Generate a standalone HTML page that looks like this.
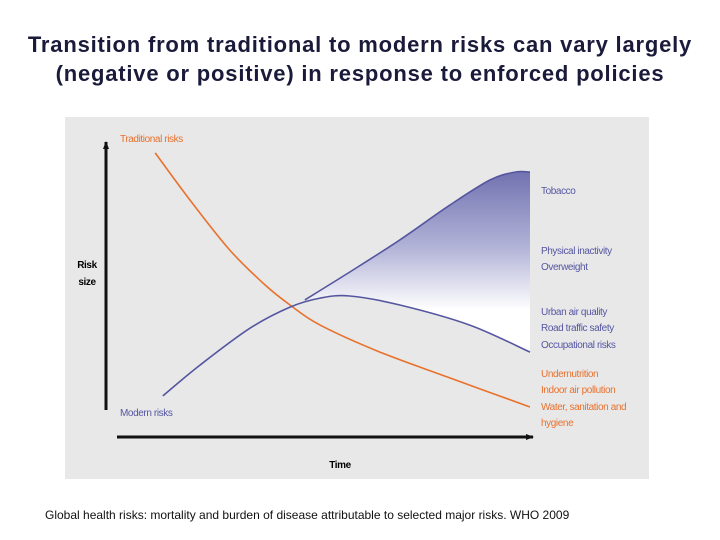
<!DOCTYPE html>
<html><head><meta charset="utf-8"><style>
body{margin:0;width:720px;height:540px;background:#fff;font-family:"Liberation Sans",sans-serif;overflow:hidden;position:relative}
#title{position:absolute;top:30px;left:0;width:720px;text-align:center;font-size:22px;font-weight:bold;letter-spacing:0.8px;line-height:29px;color:#1a1a3a;white-space:nowrap}
#cap{position:absolute;left:45px;top:508px;font-size:12px;color:#111}
svg{position:absolute;left:0;top:0}
</style></head><body>
<div id="title">Transition from traditional to modern risks can vary largely<br>(negative or positive) in response to enforced policies</div>
<svg width="720" height="540" id="chart">
<defs><linearGradient id="g" x1="0" y1="175" x2="0" y2="310" gradientUnits="userSpaceOnUse"><stop offset="0" stop-color="#7475b2"/><stop offset="0.55" stop-color="#b4b5d8"/><stop offset="1" stop-color="#ffffff"/></linearGradient>
<marker id="ah" markerWidth="10" markerHeight="10" refX="7" refY="4" orient="auto" markerUnits="userSpaceOnUse"><path d="M0,1 L8,4 L0,7 z" fill="#111"/></marker></defs>
<rect x="65" y="117" width="584" height="362" fill="#e8e8e9"/>
<g id="marks"></g>
<line x1="106" y1="410" x2="106" y2="142" stroke="#111" stroke-width="3" marker-end="url(#ah)"/>
<line x1="117" y1="437" x2="533" y2="437" stroke="#111" stroke-width="3" marker-end="url(#ah)"/>
<g font-family="Liberation Sans,sans-serif" font-size="10" letter-spacing="-0.4">
<text x="87" y="268" text-anchor="middle" font-weight="bold"><tspan x="87">Risk</tspan><tspan x="87" dy="17">size</tspan></text>
<text x="340" y="468" text-anchor="middle" font-weight="bold">Time</text>
<text x="120" y="142" fill="#e8712c">Traditional risks</text>
<text x="120" y="416" fill="#5556a0">Modern risks</text>
<g fill="#5556a0">
<text x="541" y="194">Tobacco</text>
<text x="541" y="254">Physical inactivity</text>
<text x="541" y="270">Overweight</text>
<text x="541" y="315">Urban air quality</text>
<text x="541" y="331">Road traffic safety</text>
<text x="541" y="348">Occupational risks</text></g>
<g fill="#e8712c">
<text x="541" y="377">Undernutrition</text>
<text x="541" y="393">Indoor air pollution</text>
<text x="541" y="410">Water, sanitation and</text>
<text x="541" y="426">hygiene</text></g>
</g>
</svg>
<div id="cap">Global health risks: mortality and burden of disease attributable to selected major risks. WHO 2009</div>
<script>
const tradT=[11.6,19.8,29.2,37.5,43.4,50.5,64.6,81.1,100];
const tradV=[94.7,79,62.3,50.7,44,37.3,28.3,19.7,10];
const modT=[13.4,22.2,34,43.4,50.5,57.5,69.3,85.8,100];
const modV=[13.7,24,36.3,43.3,46.3,47,44,37.3,28.3];
const upT=[46.9,57.5,69.3,81.1,90.6,96.5,100];
const upV=[45.7,55,65.7,77.3,85.7,88.3,88.3];
const xs=t=>106+t*4.24, ys=v=>437-v*3;
function pts(T,V){return T.map((t,i)=>[xs(t),ys(V[i])]);}
function cr(p,move){let d=move?`M${p[0][0]},${p[0][1]}`:`L${p[0][0]},${p[0][1]}`;
for(let i=0;i<p.length-1;i++){const a=p[Math.max(i-1,0)],b=p[i],c=p[i+1],e=p[Math.min(i+2,p.length-1)];
d+=` C${b[0]+(c[0]-a[0])/6},${b[1]+(c[1]-a[1])/6} ${c[0]-(e[0]-b[0])/6},${c[1]-(e[1]-b[1])/6} ${c[0]},${c[1]}`;}return d;}
const g=document.getElementById('marks');const NS='http://www.w3.org/2000/svg';
function add(d,attrs,name){const p=document.createElementNS(NS,'path');p.setAttribute('d',d);for(const k in attrs)p.setAttribute(k,attrs[k]);


g.appendChild(p);}
const up=pts(upT,upV);
const lowT=[],lowV=[];modT.forEach((t,i)=>{if(t>=upT[0]){lowT.push(t);lowV.push(modV[i]);}});
const low=pts([upT[0]].concat(lowT),[upV[0]].concat(lowV)).reverse();
add(cr(up,true)+' '+cr(low,false)+' Z',{fill:'url(#g)',stroke:'none'},'modern-risk-range-fill');
add(cr(pts(tradT,tradV),true),{fill:'none',stroke:'#e8712c','stroke-width':1.6},'traditional-risks-line');
add(cr(pts(modT,modV),true),{fill:'none',stroke:'#5556a0','stroke-width':1.6},'modern-risks-lower-line');
add(cr(up,true),{fill:'none',stroke:'#5556a0','stroke-width':1.6},'modern-risks-upper-line');
</script>
</body></html>
